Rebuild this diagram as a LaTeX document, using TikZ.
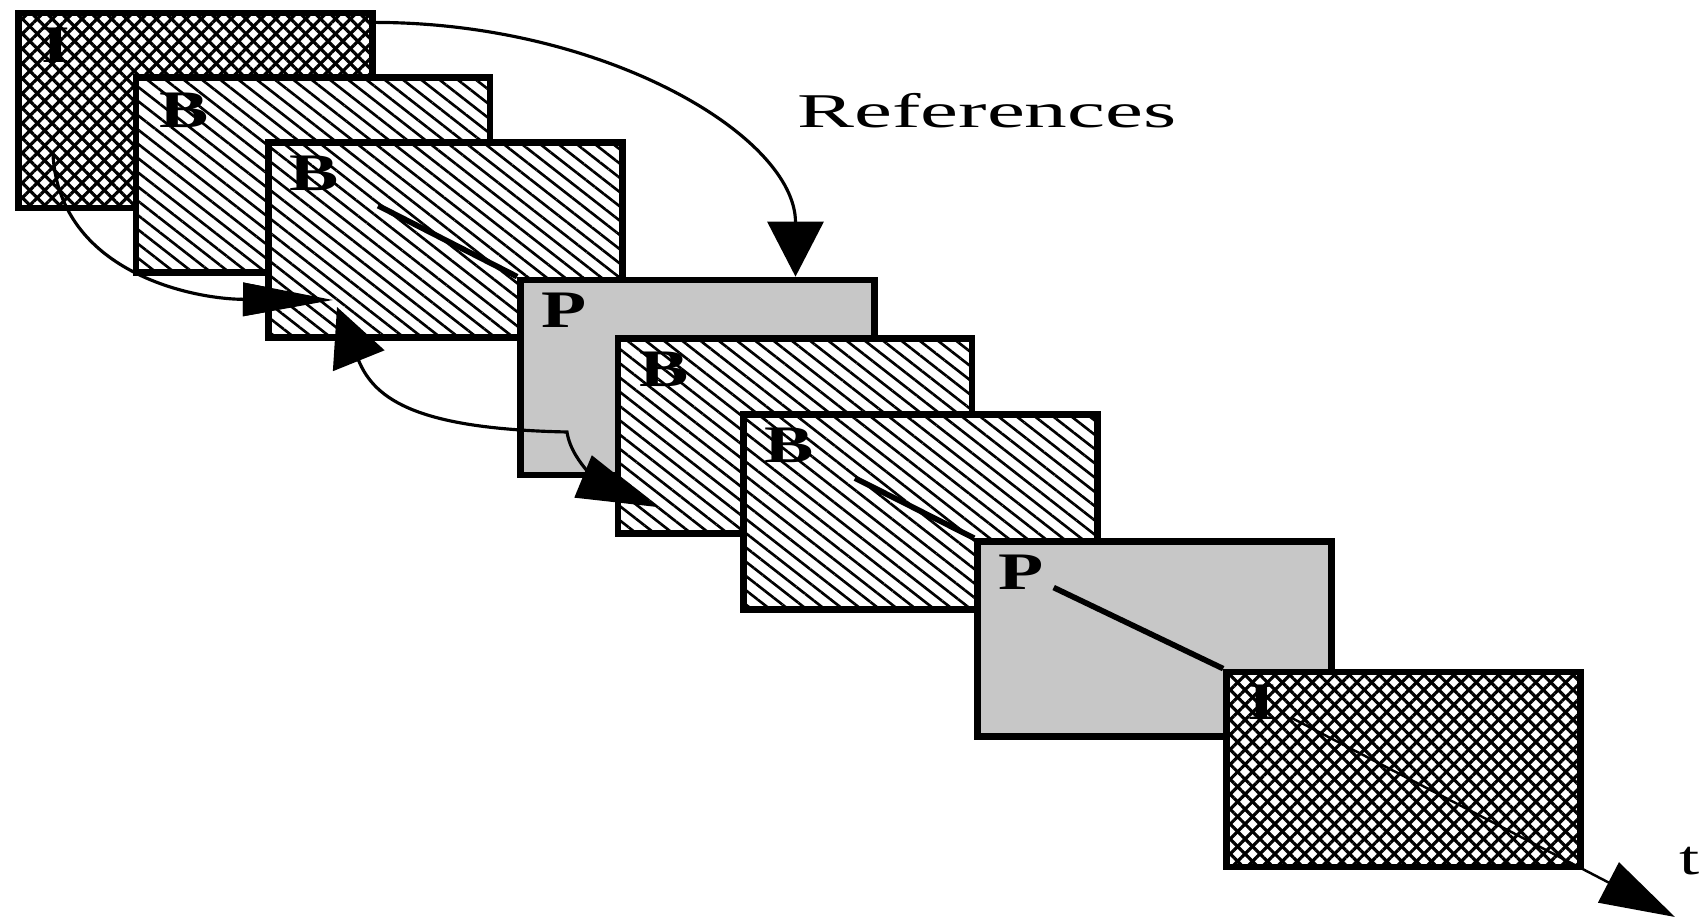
\documentclass[tikz,border=0pt]{standalone}
\usepackage{graphicx}
\usepackage{fontspec}
\setmainfont{Liberation Serif}
\usetikzlibrary{arrows.meta,patterns.meta,positioning}

\newcommand{\widen}[2]{\scalebox{#1}[1]{#2}}

\begin{document}
\begin{tikzpicture}[on grid,
    basebox/.style={draw, line width=1.9pt, minimum width=3.54cm,
      minimum height=1.95cm, inner sep=0pt},
    iframe/.style={basebox, preaction={fill=white},
      pattern={Lines[angle=45,distance=3.0pt,line width=0.9pt]},
      postaction={pattern={Lines[angle=-45,distance=3.0pt,line width=0.9pt]}}},
    bframe/.style={basebox, preaction={fill=white},
      pattern={Lines[angle=-38,distance=3.2pt,line width=0.75pt]}},
    pframe/.style={basebox, fill=black!22},
    ftype/.style={font=\fontsize{15}{17}\selectfont\bfseries, inner sep=0pt},
    refline/.style={line width=0.9pt},
    track/.style={line width=1.6pt},
    longtip/.style={-{Triangle[length=9mm,width=3.3mm]}}]

  \useasboundingbox (0,0) rectangle (17.08,9.21);

  \coordinate (a1s) at (0.53,7.66);
  \coordinate (a1b) at (2.40,6.216);
  \coordinate (a1e) at (3.33,6.21);
  \coordinate (a3s) at (3.37,6.14);
  \coordinate (a3k) at (5.67,4.89);
  \coordinate (a3e) at (6.57,4.14);
  \coordinate (tend) at (16.75,0.04);

  % I frame and the reference that runs behind B1
  \node[iframe] (I1) at (1.955,8.105) {};
  \node[ftype] (I1l) [below right=0.16cm and 0.24cm of I1.north west] {\widen{1.4}{I}};
  \draw[refline,longtip] (a1s) .. controls (0.6,6.5) and (1.9,6.22) .. (a1e);

  \node[bframe] (B1) [below right=0.645cm and 1.175cm of I1] {};
  \node[ftype] (B1l) [below right=0.16cm and 0.24cm of B1.north west] {\widen{1.4}{B}};
  \node[bframe] (B2) [below right=0.65cm and 1.325cm of B1] {};
  \node[ftype] (B2l) [below right=0.16cm and 0.24cm of B2.north west] {\widen{1.4}{B}};
  \draw[refline,longtip] (a1b) -- (a1e);

  \node[pframe] (P1) [below right=1.375cm and 2.52cm of B2] {};
  \node[ftype] (P1l) [below right=0.16cm and 0.24cm of P1.north west] {\widen{1.4}{P}};
  \draw[track, shorten <=0.43cm] (B2l) -- (P1.north west);
  \draw[refline,-{Triangle[length=5.5mm,width=5.6mm]}]
    ([yshift=-0.11cm]I1.north east) .. controls +(2.31,0) and +(0,1.40) .. ([xshift=0.98cm]P1.north);

  \node[bframe] (B3) [below right=0.585cm and 0.975cm of P1] {};
  \node[ftype] (B3l) [below right=0.16cm and 0.24cm of B3.north west] {\widen{1.4}{B}};
  \draw[refline,{Triangle[length=5.8mm,width=5.5mm]}-{Triangle[length=8mm,width=4.5mm]}]
    (a3s) .. controls (3.75,5.2) and (4.2,4.92) .. (a3k)
          .. controls (5.72,4.55) and (6.11,4.33) .. (a3e);

  \node[bframe] (B4) [below right=0.76cm and 1.255cm of B3] {};
  \node[ftype] (B4l) [below right=0.16cm and 0.24cm of B4.north west] {\widen{1.4}{B}};

  \node[pframe] (P2) [below right=1.27cm and 2.34cm of B4] {};
  \node[ftype] (P2l) [below right=0.16cm and 0.24cm of P2.north west] {\widen{1.4}{P}};
  \draw[track, shorten <=0.45cm] (B4l) -- (P2.north west);

  \node[iframe] (I2) [below right=1.305cm and 2.49cm of P2] {};
  \node[ftype] (I2l) [below right=0.16cm and 0.24cm of I2.north west] {\widen{1.4}{I}};
  \draw[track, shorten <=0.1cm] (P2l) -- (I2.north west);
  \draw[line width=0.7pt, shorten <=0.16cm, -{Triangle[length=7.5mm,width=4.5mm]}] (I2l) -- (tend);

  \node[font=\fontsize{13.8}{16}\selectfont, anchor=base] (refs) at (9.87,7.93) {\widen{1.76}{References}};
  \node[font=\fontsize{13.8}{16}\selectfont, anchor=base] (tlab) at (16.90,0.46) {\widen{1.5}{t}};
\end{tikzpicture}
\end{document}
